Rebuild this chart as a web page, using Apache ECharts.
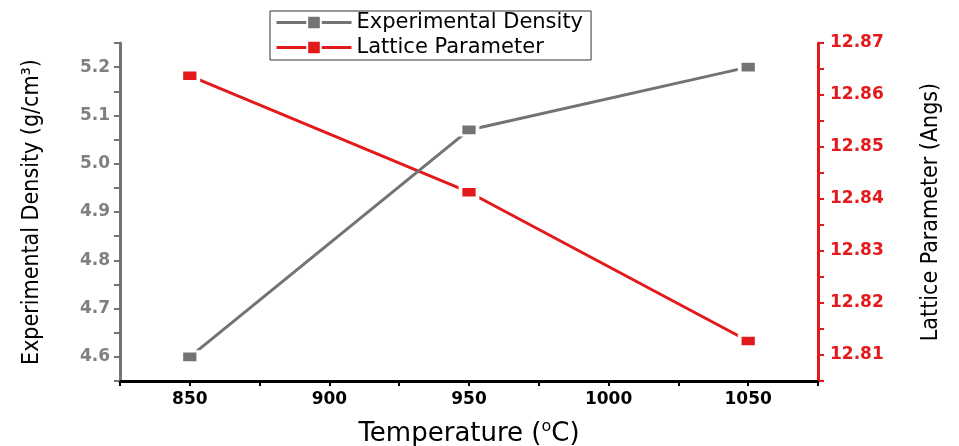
<!DOCTYPE html>
<html>
<head>
<meta charset="utf-8">
<script src="https://cdn.jsdelivr.net/npm/echarts@6/dist/echarts.min.js"></script>
<style>
  html, body { margin: 0; padding: 0; background: #fff; }
  #chart { width: 959px; height: 446px; }
</style>
</head>
<body>
<div id="chart"></div>
<script>
// values
const temperatures = [850, 950, 1050]
const density = [4.60, 5.07, 5.20]
const lattice = [12.8637, 12.8413, 12.8127]

const grayColor = '#737373'
const redColor = '#e31a1c'

const chart = echarts.init(document.getElementById('chart'))

const toPairs = (ys) => temperatures.map((t, i) => [t, ys[i]])

const markerStyle = (color) => ({
    color: color,
    borderColor: '#fff',
    borderWidth: 3
})

chart.setOption({
    animation: false,
    backgroundColor: '#fff',
    grid: {
        left: 120,
        right: 141,
        top: 43,
        bottom: 65,
        outerBoundsMode: 'none'
    },
    legend: {
        orient: 'vertical',
        left: 270,
        top: 11,
        borderColor: '#333',
        borderWidth: 1,
        padding: [1, 8, 2, 5],
        itemGap: 4,
        itemWidth: 75,
        itemHeight: 17,
        lineStyle: { width: 3 },
        textStyle: {
            fontFamily: 'DejaVu Sans',
            fontSize: 21,
            color: '#000'
        },
        data: ['Experimental Density', 'Lattice Parameter']
    },
    xAxis: {
        type: 'value',
        min: 825,
        max: 1075,
        interval: 25,
        name: 'Temperature ({sup|o}C)',
        nameLocation: 'middle',
        nameGap: 38,
        nameTextStyle: {
            fontFamily: 'DejaVu Sans',
            fontSize: 26,
            color: '#000',
            rich: {
                sup: {
                    fontFamily: 'DejaVu Sans',
                    fontSize: 16,
                    padding: [0, 0, 14, 0]
                }
            }
        },
        axisLine: { lineStyle: { color: '#000', width: 3 } },
        axisTick: { length: 5, lineStyle: { color: '#000', width: 2 } },
        axisLabel: {
            margin: 10,
            fontFamily: 'DejaVu Sans',
            fontWeight: 'bold',
            fontSize: 17,
            color: '#000',
            formatter: (v) => (v % 50 === 0 ? String(v) : '')
        },
        splitLine: { show: false }
    },
    yAxis: [
        {
            type: 'value',
            position: 'left',
            min: 4.55,
            max: 5.25,
            interval: 0.05,
            name: 'Experimental Density (g/cm³)',
            nameLocation: 'middle',
            nameGap: 76,
            nameTextStyle: {
                fontFamily: 'Liberation Sans Narrow, DejaVu Sans Condensed, sans-serif',
                fontSize: 23,
                color: '#000'
            },
            axisLine: { show: true, lineStyle: { color: grayColor, width: 3 } },
            axisTick: { length: 6, lineStyle: { color: grayColor, width: 2 } },
            axisLabel: {
                margin: 10,
                fontFamily: 'DejaVu Sans',
                fontWeight: 'bold',
                fontSize: 17,
                color: '#808080',
                formatter: (v) => (Math.round(v * 100) % 10 === 0 ? v.toFixed(1) : '')
            },
            splitLine: { show: false }
        },
        {
            type: 'value',
            position: 'right',
            min: 12.805,
            max: 12.87,
            interval: 0.005,
            name: 'Lattice Parameter (Angs)',
            nameLocation: 'middle',
            nameGap: 102,
            nameRotate: 90,
            nameTextStyle: {
                fontFamily: 'Liberation Sans Narrow, DejaVu Sans Condensed, sans-serif',
                fontSize: 23,
                color: '#000'
            },
            axisLine: { show: true, lineStyle: { color: redColor, width: 3 } },
            axisTick: { length: 6, lineStyle: { color: redColor, width: 2 } },
            axisLabel: {
                margin: 12,
                fontFamily: 'DejaVu Sans',
                fontWeight: 'bold',
                fontSize: 17,
                color: redColor,
                formatter: (v) => (Math.round(v * 1000) % 10 === 0 ? v.toFixed(2) : '')
            },
            splitLine: { show: false }
        }
    ],
    series: [
        {
            name: 'Experimental Density',
            type: 'line',
            yAxisIndex: 0,
            data: toPairs(density),
            symbol: 'rect',
            symbolSize: [17, 11],
            lineStyle: { color: grayColor, width: 3 },
            itemStyle: markerStyle(grayColor),
            z: 3
        },
        {
            name: 'Lattice Parameter',
            type: 'line',
            yAxisIndex: 1,
            data: toPairs(lattice),
            symbol: 'rect',
            symbolSize: [17, 11],
            lineStyle: { color: redColor, width: 3 },
            itemStyle: markerStyle(redColor),
            z: 2
        }
    ]
})
</script>
</body>
</html>
